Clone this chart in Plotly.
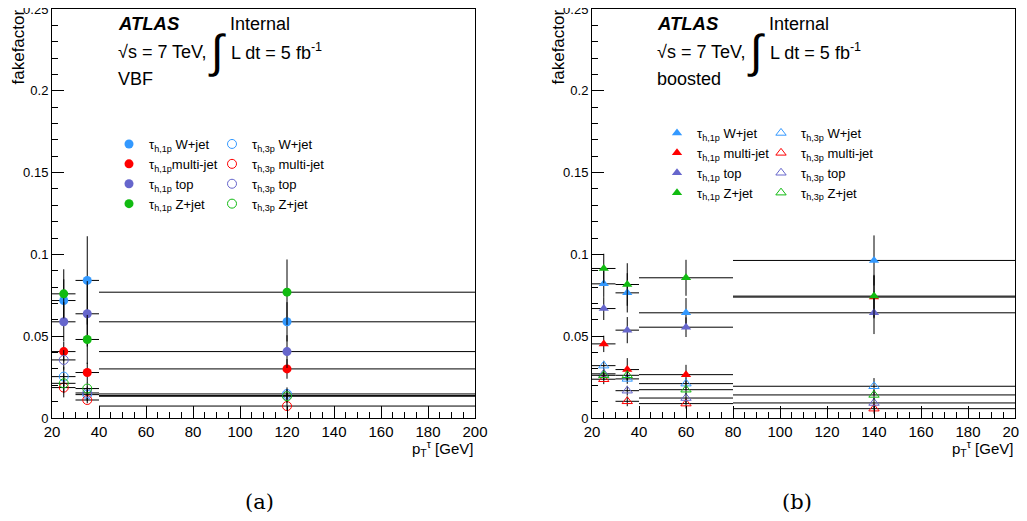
import plotly.graph_objects as go

# Target canvas is 1027x521; the page body keeps its default 8px margin,
# so the figure is placed at an 8px offset and sized to fit inside the window.
PAGE_W, PAGE_H = 1027, 521
BODY = 8
W, H = PAGE_W - BODY, PAGE_H - 2 * BODY

# ---------------- data ----------------
# VBF category: pT bins [20,30], [30,40], [40,200]
vbf_bin_lo = [20, 30, 40]
vbf_bin_hi = [30, 40, 200]

vbf_1p_wjet = [0.0718, 0.0841, 0.0588]
vbf_1p_multijet = [0.0406, 0.0278, 0.0300]
vbf_1p_top = [0.0588, 0.0637, 0.0406]
vbf_1p_zjet = [0.0759, 0.0480, 0.0769]
vbf_3p_wjet = [0.0253, 0.0143, 0.0147]
vbf_3p_multijet = [0.0186, 0.0110, 0.0073]
vbf_3p_top = [0.0355, 0.0153, 0.0137]
vbf_3p_zjet = [0.0212, 0.0180, 0.0133]

vbf_1p_wjet_err = [0.013, 0.027, 0.012]
vbf_1p_multijet_err = [0.006, 0.006, 0.006]
vbf_1p_top_err = [0.012, 0.020, 0.010]
vbf_1p_zjet_err = [0.015, 0.015, 0.020]
vbf_3p_wjet_err = [0.006, 0.004, 0.004]
vbf_3p_multijet_err = [0.006, 0.002, 0.003]
vbf_3p_top_err = [0.006, 0.004, 0.004]
vbf_3p_zjet_err = [0.006, 0.004, 0.004]

# boosted category: pT bins [20,30], [30,40], [40,80], [80,200]
bst_bin_lo = [20, 30, 40, 80]
bst_bin_hi = [30, 40, 80, 200]

bst_1p_wjet = [0.0820, 0.0765, 0.0643, 0.0963]
bst_1p_multijet = [0.0453, 0.0296, 0.0265, 0.0739]
bst_1p_top = [0.0669, 0.0537, 0.0555, 0.0643]
bst_1p_zjet = [0.0914, 0.0816, 0.0857, 0.0745]
bst_3p_wjet = [0.0320, 0.0239, 0.0210, 0.0194]
bst_3p_multijet = [0.0237, 0.0102, 0.0088, 0.0057]
bst_3p_top = [0.0270, 0.0167, 0.0122, 0.0092]
bst_3p_zjet = [0.0261, 0.0261, 0.0173, 0.0141]

bst_1p_wjet_err = [0.008, 0.012, 0.009, 0.0153]
bst_1p_multijet_err = [0.005, 0.007, 0.006, 0.013]
bst_1p_top_err = [0.007, 0.008, 0.006, 0.013]
bst_1p_zjet_err = [0.009, 0.013, 0.011, 0.013]
bst_3p_wjet_err = [0.003, 0.003, 0.003, 0.005]
bst_3p_multijet_err = [0.003, 0.003, 0.003, 0.003]
bst_3p_top_err = [0.003, 0.003, 0.003, 0.003]
bst_3p_zjet_err = [0.003, 0.003, 0.003, 0.003]

series_labels = ["W+jet", "multi-jet", "top", "Z+jet"]
series_colors = ["#3399ff", "#ff0000", "#6666cc", "#11bb11"]

FONT = "Liberation Sans"


def px_x(x):
    return (x - BODY) / W


def px_y(y):
    return 1 - (y - BODY) / H


fig = go.Figure()


def add_panel(lo, hi, vals_1p, errs_1p, vals_3p, errs_3p, xa, ya, symbol, leg1, leg2, space1p_multi):
    centers = [(a + b) / 2 for a, b in zip(lo, hi)]
    halfw = [(b - a) / 2 for a, b in zip(lo, hi)]
    for i, (v, e) in enumerate(zip(vals_1p, errs_1p)):
        lab = series_labels[i]
        sep = " " if (lab != "multi-jet" or space1p_multi) else ""
        fig.add_trace(go.Scatter(
            x=centers, y=v, mode="markers", xaxis=xa, yaxis=ya,
            name="τ<sub>h,1p</sub>" + sep + lab, legend=leg1,
            marker=dict(symbol=symbol, size=9, color=series_colors[i]),
            error_x=dict(type="data", array=halfw, symmetric=True, color="black", thickness=1, width=0),
            error_y=dict(type="data", array=e, symmetric=True, color="black", thickness=1, width=0),
        ))
    for i, (v, e) in enumerate(zip(vals_3p, errs_3p)):
        lab = series_labels[i]
        fig.add_trace(go.Scatter(
            x=centers, y=v, mode="markers", xaxis=xa, yaxis=ya,
            name="τ<sub>h,3p</sub> " + lab, legend=leg2,
            marker=dict(symbol=symbol + "-open", size=9, color=series_colors[i],
                        line=dict(width=1, color=series_colors[i])),
            error_x=dict(type="data", array=halfw, symmetric=True, color="black", thickness=1, width=0),
            error_y=dict(type="data", array=e, symmetric=True, color="black", thickness=1, width=0),
        ))


add_panel(vbf_bin_lo, vbf_bin_hi,
          [vbf_1p_wjet, vbf_1p_multijet, vbf_1p_top, vbf_1p_zjet],
          [vbf_1p_wjet_err, vbf_1p_multijet_err, vbf_1p_top_err, vbf_1p_zjet_err],
          [vbf_3p_wjet, vbf_3p_multijet, vbf_3p_top, vbf_3p_zjet],
          [vbf_3p_wjet_err, vbf_3p_multijet_err, vbf_3p_top_err, vbf_3p_zjet_err],
          "x", "y", "circle", "legend", "legend2", False)

add_panel(bst_bin_lo, bst_bin_hi,
          [bst_1p_wjet, bst_1p_multijet, bst_1p_top, bst_1p_zjet],
          [bst_1p_wjet_err, bst_1p_multijet_err, bst_1p_top_err, bst_1p_zjet_err],
          [bst_3p_wjet, bst_3p_multijet, bst_3p_top, bst_3p_zjet],
          [bst_3p_wjet_err, bst_3p_multijet_err, bst_3p_top_err, bst_3p_zjet_err],
          "x2", "y2", "triangle-up", "legend3", "legend4", True)

xaxis_common = dict(
    range=[20, 200], dtick=20, tick0=20, ticks="inside", ticklen=12, tickcolor="black",
    showline=True, mirror=True, linecolor="black", linewidth=1, showgrid=False, zeroline=False,
    tickfont=dict(family=FONT, size=15, color="black"), automargin=False, ticklabeloverflow="allow",
    minor=dict(dtick=5, ticks="inside", ticklen=6, tickcolor="black", showgrid=False),
)
yaxis_common = dict(
    range=[0, 0.25], dtick=0.05, tick0=0, ticks="inside", ticklen=12, tickcolor="black",
    showline=True, mirror=True, linecolor="black", linewidth=1, showgrid=False, zeroline=False,
    tickfont=dict(family=FONT, size=13, color="black"), automargin=False, ticklabeloverflow="allow",
    minor=dict(dtick=0.01, ticks="inside", ticklen=6, tickcolor="black", showgrid=False),
)

ydom = [px_y(418), px_y(9)]
fig.update_layout(
    width=W, height=H, margin=dict(l=0, r=0, t=0, b=0),
    paper_bgcolor="white", plot_bgcolor="white",
    font=dict(family=FONT, color="black"),
    xaxis=dict(domain=[px_x(52), px_x(475)], anchor="y", **xaxis_common),
    yaxis=dict(domain=ydom, anchor="x", **yaxis_common),
    xaxis2=dict(domain=[px_x(592), px_x(1015)], anchor="y2", **xaxis_common),
    yaxis2=dict(domain=ydom, anchor="x2", **yaxis_common),
    showlegend=True,
)

leg_common = dict(xanchor="left", yanchor="top", bgcolor="rgba(0,0,0,0)", borderwidth=0,
                  font=dict(family=FONT, size=13, color="black"), tracegroupgap=0, itemwidth=30,
                  itemclick=False)
fig.update_layout(
    legend=dict(x=px_x(128 - 19), y=px_y(146 - 17), **leg_common),
    legend2=dict(x=px_x(231 - 19), y=px_y(146 - 17), **leg_common),
    legend3=dict(x=px_x(676 - 19), y=px_y(135 - 17), **leg_common),
    legend4=dict(x=px_x(780 - 19), y=px_y(135 - 17), **leg_common),
)


def ann(text, x, y, size=18, xanchor="left", yanchor="middle", family=FONT, angle=0):
    fig.add_annotation(text=text, x=px_x(x), y=px_y(y), xref="paper", yref="paper",
                       xanchor=xanchor, yanchor=yanchor, showarrow=False, textangle=angle,
                       font=dict(family=family, size=size, color="black"))


for x0, cat in [(116, "VBF"), (655, "boosted")]:
    ann("<b><i>ATLAS</i></b>", x0, 23, size=18.5)
    ann("√s = 7 TeV,", x0, 52)
    ann("∫", x0 + 90, 51, size=46)
    ann("Internal", x0 + 112, 24)
    ann("L dt = 5 fb<sup>-1</sup>", x0 + 113, 52)
    ann(cat, x0, 79)

for xr in [475, 1015]:
    ann("fakefactor", xr - 457, 8, size=17, xanchor="center", yanchor="top", angle=-90)
    ann("p<sub>T</sub><sup>τ</sup> [GeV]", xr, 448, size=15, xanchor="right")

ann("(a)", 259, 502, size=21, xanchor="center", family="DejaVu Serif")
ann("(b)", 797, 502, size=21, xanchor="center", family="DejaVu Serif")

fig.write_html("out.html", config={"displayModeBar": False})
